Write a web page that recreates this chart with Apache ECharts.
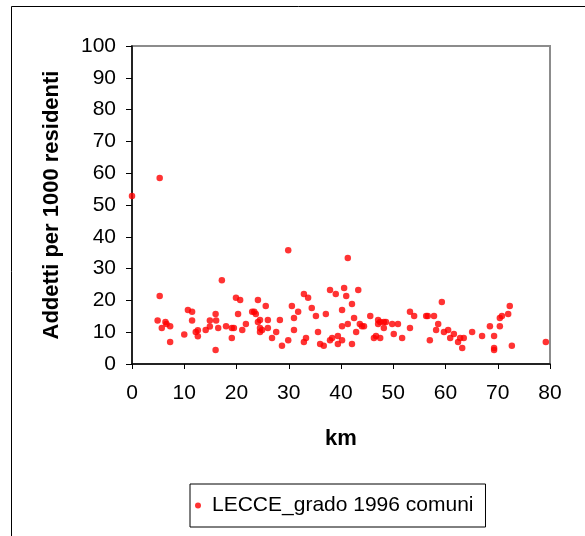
<!DOCTYPE html>
<html>
<head>
<meta charset="utf-8">
<script src="https://cdn.jsdelivr.net/npm/echarts@6/dist/echarts.min.js"></script>
<style>
html,body{margin:0;padding:0;background:#fff;}
#chart{width:585px;height:536px;}
</style>
</head>
<body>
<div id="chart"></div>
<script>
var seriesName = 'LECCE_grado 1996 comuni';
var xTitle = 'km';
var yTitle = 'Addetti per 1000 residenti';
var km = [0.0,5.3,5.3,4.9,5.7,6.4,6.6,7.3,7.3,10.0,10.7,11.5,11.5,12.2,12.6,12.6,14.1,14.9,14.9,16.0,16.1,16.5,16.0,17.2,18.0,19.1,19.5,19.1,19.9,20.7,20.3,21.1,21.8,23.0,23.4,23.7,24.1,24.1,24.5,24.5,24.9,24.5,25.6,26.0,26.0,26.8,27.6,28.3,28.7,29.9,29.9,30.6,31.0,31.0,31.8,32.9,33.7,32.9,33.3,34.4,35.2,35.6,36.0,36.7,37.1,37.9,39.0,37.9,38.3,39.4,39.4,40.2,40.2,40.6,41.0,41.3,43.3,42.1,42.5,41.3,42.9,43.6,44.0,44.4,45.6,40.2,42.1,46.3,46.7,47.5,47.1,47.1,47.5,48.2,48.6,48.2,49.8,50.9,50.1,51.7,53.2,54.0,53.2,56.3,56.6,57.8,58.6,59.3,58.2,57.0,59.7,60.5,60.9,61.6,62.4,62.8,63.2,63.5,65.1,67.0,68.5,69.3,69.3,69.3,70.4,70.8,70.4,72.0,72.3,72.7,79.2];
var addetti = [52.8,58.5,21.4,13.7,11.3,13.2,12.6,11.9,6.9,9.3,17.0,16.4,13.7,10.1,10.6,8.7,10.7,11.8,13.7,15.7,13.7,11.3,4.4,26.3,11.9,11.3,11.3,8.2,20.8,20.1,15.7,10.7,12.6,16.4,16.4,15.7,20.1,13.2,13.8,11.3,10.7,10.1,18.2,13.8,11.3,8.2,10.1,13.8,5.7,35.8,7.5,18.2,14.5,10.7,16.4,22.0,20.8,6.9,8.2,17.6,15.1,10.1,6.3,5.7,15.7,23.3,22.0,7.5,8.2,8.8,6.3,17.0,11.9,23.9,21.4,33.3,23.3,18.9,14.5,12.6,10.1,12.6,11.9,11.9,15.1,7.5,6.3,8.2,8.8,8.2,13.8,12.6,13.2,13.2,13.2,11.3,12.6,12.6,9.4,8.2,16.4,15.1,11.3,15.1,15.1,15.1,12.6,19.5,10.7,7.5,10.1,10.7,8.2,9.4,6.9,8.2,5.0,8.2,10.1,8.8,11.9,8.8,5.0,4.4,14.5,15.1,11.9,15.7,18.2,5.7,6.9];

var points = km.map(function(v, i){ return [v, addetti[i]]; });
var FONT = '"Liberation Sans", Arial, sans-serif';

var chart = echarts.init(document.getElementById('chart'), null, {renderer:'canvas'});
chart.setOption({
  backgroundColor: '#fff',
  animation: false,
  textStyle: {fontFamily: FONT, color: '#000'},
  graphic: [{
    type: 'rect', z: -10, silent: true,
    shape: {x: 11.5, y: 6.5, width: 700, height: 700},
    style: {fill: 'none', stroke: '#000', lineWidth: 1}
  }],
  grid: {
    left: 132, right: 35, top: 46, bottom: 172,
    show: true, backgroundColor: '#fff', borderColor: '#8c8c8c', borderWidth: 2
  },
  xAxis: {
    type: 'value', min: 0, max: 80, interval: 10,
    name: xTitle, nameLocation: 'middle', nameGap: 64,
    nameTextStyle: {fontFamily: FONT, fontSize: 22, fontWeight: 'bold', color: '#000'},
    axisLine: {show: true, onZero: false, lineStyle: {color: '#000', width: 1.5}},
    axisTick: {show: true, inside: false, length: 5, lineStyle: {color: '#000', width: 1}},
    axisLabel: {margin: 19, fontFamily: FONT, fontSize: 21, color: '#000'},
    splitLine: {show: false}
  },
  yAxis: {
    type: 'value', min: 0, max: 100, interval: 10,
    name: yTitle, nameLocation: 'middle', nameGap: 69,
    nameTextStyle: {fontFamily: FONT, fontSize: 22, fontWeight: 'bold', color: '#000'},
    axisLine: {show: true, onZero: false, lineStyle: {color: '#000', width: 1.5}},
    axisTick: {show: true, inside: false, length: 6, lineStyle: {color: '#000', width: 1}},
    axisLabel: {margin: 16, fontFamily: FONT, fontSize: 21, color: '#000'},
    splitLine: {show: false}
  },
  legend: {
    show: true, left: 190, top: 484,
    padding: [11, 12, 11, 5],
    itemWidth: 18, itemHeight: 6,
    borderColor: '#000', borderWidth: 1, backgroundColor: '#fff',
    textStyle: {fontFamily: FONT, fontSize: 21, color: '#000'},
    data: [seriesName]
  },
  series: [{
    name: seriesName,
    type: 'scatter',
    symbol: 'circle',
    symbolSize: 6.5,
    itemStyle: {color: '#ff0000'},
    data: points
  }]
});
</script>
</body>
</html>
